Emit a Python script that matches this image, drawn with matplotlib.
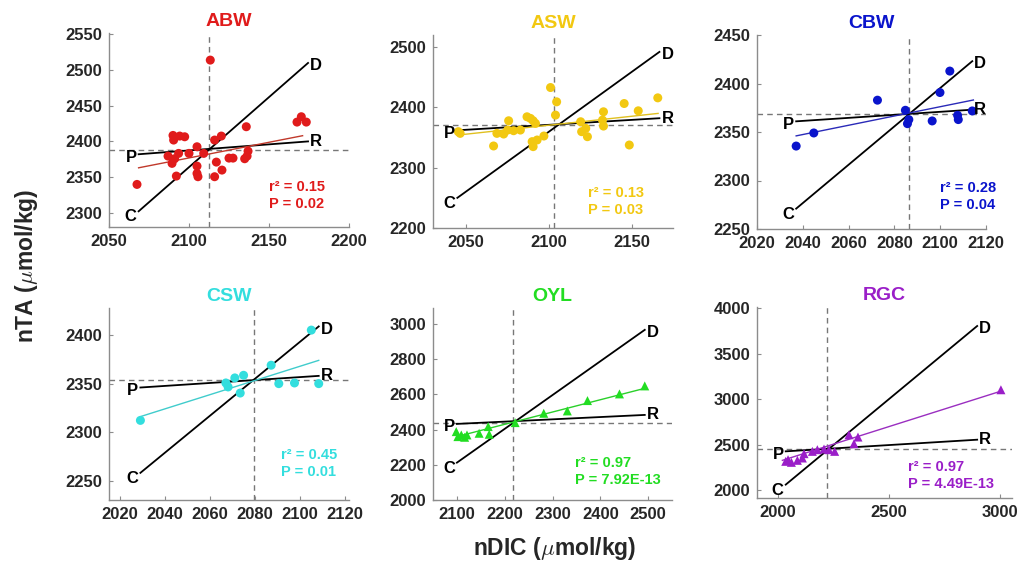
import numpy as np
import matplotlib
matplotlib.use("Agg")
import matplotlib.pyplot as plt

plt.rcParams["font.family"] = ["Liberation Sans", "DejaVu Sans"]
plt.rcParams["font.weight"] = "bold"
plt.rcParams["mathtext.fontset"] = "cm"

# == Datos ==

paneles = ["ABW", "ASW", "CBW", "CSW", "OYL", "RGC"]
colores = ["#e01b1b", "#f2c811", "#0a14cc", "#33dede", "#22dd22", "#9a1ec8"]
colores_ajuste = ["#c0392b", "#e0c020", "#2a2ab8", "#40cccc", "#2ad02a", "#9a2ec0"]
marcadores = ["o", "o", "o", "o", "^", "^"]

abw_x = [2067.5, 2113.3, 2090.0, 2090.4, 2094.2, 2097.3, 2086.9, 2089.4, 2091.0, 2093.5,
         2092.1, 2100.0, 2105.0, 2105.0, 2105.0, 2105.6, 2109.2, 2116.0, 2120.2, 2117.1,
         2116.0, 2120.6, 2125.0, 2127.5, 2135.8, 2136.9, 2136.3, 2134.8, 2167.5, 2170.2,
         2173.3]
abw_y = [2339.7, 2514.0, 2408.4, 2401.9, 2407.5, 2406.5, 2379.4, 2369.2, 2375.7, 2383.2,
         2351.4, 2383.2, 2392.5, 2365.4, 2355.1, 2350.5, 2383.2, 2401.9, 2407.5, 2371.0,
         2350.5, 2359.8, 2376.6, 2376.6, 2420.6, 2386.4, 2379.4, 2375.7, 2427.1, 2434.6,
         2427.1]

asw_x = [2045.3, 2046.4, 2066.6, 2068.6, 2072.7, 2075.7, 2075.1, 2078.7, 2082.8, 2086.8,
         2088.9, 2090.5, 2091.9, 2089.9, 2090.5, 2092.9, 2097.0, 2101.0, 2104.0, 2104.7,
         2119.2, 2119.8, 2122.3, 2123.3, 2133.0, 2132.4, 2133.0, 2145.5, 2148.6, 2154.0,
         2165.8]
asw_y = [2359.7, 2356.9, 2336.0, 2356.9, 2355.8, 2377.8, 2362.4, 2361.3, 2362.4, 2384.4,
         2381.7, 2377.8, 2373.4, 2343.2, 2334.9, 2345.9, 2352.5, 2432.9, 2387.2, 2409.2,
         2376.2, 2359.7, 2365.2, 2351.4, 2392.7, 2378.9, 2369.0, 2406.4, 2337.6, 2394.3,
         2415.8]

cbw_x = [2037.1, 2044.8, 2072.6, 2084.8, 2086.3, 2085.7, 2096.5, 2099.9, 2104.2, 2107.6,
         2107.9, 2114.0]
cbw_y = [2335.5, 2349.0, 2382.8, 2372.4, 2362.8, 2358.6, 2361.4, 2390.7, 2412.8, 2367.2,
         2362.8, 2371.7]

csw_x = [2029.0, 2067.1, 2068.1, 2071.1, 2075.0, 2073.5, 2087.3, 2090.7, 2097.7, 2105.2,
         2108.5]
csw_y = [2312.1, 2350.7, 2346.6, 2355.9, 2358.6, 2340.3, 2369.0, 2350.0, 2350.7, 2405.2,
         2350.0]

oyl_x = [2098.6, 2102.1, 2109.2, 2116.2, 2121.1, 2146.5, 2165.5, 2167.6, 2221.8, 2281.7,
         2331.0, 2373.2, 2440.1, 2493.0]
oyl_y = [2388.3, 2359.8, 2369.3, 2356.1, 2369.3, 2378.8, 2416.7, 2373.1, 2439.4, 2492.4,
         2505.7, 2564.4, 2602.3, 2647.7]

rgc_x = [2034.5, 2045.0, 2060.1, 2087.1, 2109.6, 2117.1, 2154.7, 2177.2, 2207.2, 2229.7,
         2255.3, 2319.8, 2342.3, 2360.4, 3005.0]
rgc_y = [2318.1, 2336.4, 2307.1, 2329.1, 2354.7, 2402.2, 2427.8, 2446.1, 2453.4, 2446.1,
         2427.8, 2610.6, 2511.9, 2585.0, 3105.0]

datos_x = [abw_x, asw_x, cbw_x, csw_x, oyl_x, rgc_x]
datos_y = [abw_y, asw_y, cbw_y, csw_y, oyl_y, rgc_y]

# medias (líneas punteadas)
media_x = [2112.5, 2103.4, 2086.5, 2079.5, 2217.0, 2222.0]
media_y = [2388.0, 2371.0, 2369.0, 2353.5, 2436.0, 2453.0]

# extremos de las líneas C-D y P-R
linea_x0 = [2068.5, 2044.7, 2037.1, 2029.0, 2100.0, 2034.5]
linea_x1 = [2174.4, 2166.8, 2114.0, 2108.5, 2493.0, 2897.9]
c_y = [2302.0, 2250.0, 2271.0, 2258.0, 2212.0, 2062.0]
d_y = [2510.0, 2492.0, 2423.0, 2409.0, 2966.0, 3806.0]
p_y = [2382.0, 2362.0, 2361.0, 2346.0, 2432.0, 2428.0]
r_y = [2400.0, 2382.0, 2373.0, 2358.0, 2483.0, 2556.0]

# recta de regresión de cada panel
ajuste_x0 = [2068.5, 2044.7, 2037.1, 2029.0, 2100.0, 2019.5]
ajuste_x1 = [2171.0, 2166.0, 2114.5, 2108.5, 2493.0, 3000.0]
ajuste_y0 = [2363.0, 2354.0, 2346.0, 2316.0, 2360.0, 2329.0]
ajuste_y1 = [2408.0, 2390.0, 2383.0, 2374.0, 2634.0, 3086.0]

r2_txt = ["0.15", "0.13", "0.28", "0.45", "0.97", "0.97"]
p_txt = ["0.02", "0.03", "0.04", "0.01", "7.92E-13", "4.49E-13"]

# == Layout (px de la figura 1017x565) ==
W, H = 1017, 565
cajas = [(109, 33, 349, 227), (433, 35, 673, 228), (757, 35, 986, 229),
         (109, 308, 349, 500), (433, 308, 672, 500), (757, 307, 1012, 498)]
xlims = [(2050, 2200), (2030, 2175), (2020, 2120), (2015, 2122), (2050, 2550), (1905, 3055)]
ylims = [(2280, 2552), (2200, 2520), (2250, 2450), (2230, 2428), (2000, 3090), (1915, 4015)]
xticks = [np.arange(2050, 2201, 50), np.arange(2050, 2151, 50), np.arange(2020, 2121, 20),
          np.arange(2020, 2121, 20), np.arange(2100, 2501, 100), np.arange(2000, 3001, 500)]
yticks = [np.arange(2300, 2551, 50), np.arange(2200, 2501, 100), np.arange(2250, 2451, 50),
          np.arange(2250, 2401, 50), np.arange(2000, 3001, 200), np.arange(2000, 4001, 500)]
texto_pos = [(269, 187), (588, 193), (940, 188), (281, 455), (575, 463), (908, 467)]

fig = plt.figure(figsize=(W / 100, H / 100), dpi=100)

for i, nombre in enumerate(paneles):
    l, t, r, b = cajas[i]
    ax = fig.add_axes([l / W, 1 - b / H, (r - l) / W, (b - t) / H])
    col = colores[i]

    ax.axvline(media_x[i], color="#777777", ls=(0, (4, 3)), lw=1.0, zorder=1)
    ax.axhline(media_y[i], color="#777777", ls=(0, (4, 3)), lw=1.0, zorder=1)

    ax.scatter(datos_x[i], datos_y[i], s=42, marker=marcadores[i], color=col,
               edgecolors="none", zorder=3)

    x0, x1 = linea_x0[i], linea_x1[i]
    ax.plot([x0, x1], [c_y[i], d_y[i]], color="black", lw=1.3, zorder=2)
    ax.plot([x0, x1], [p_y[i], r_y[i]], color="black", lw=1.3, zorder=2)
    ax.plot([ajuste_x0[i], ajuste_x1[i]], [ajuste_y0[i], ajuste_y1[i]],
            color=colores_ajuste[i], lw=1.0, zorder=2)

    kw = dict(textcoords="offset points", fontsize=12, fontweight="bold", va="center")
    ax.annotate("D", (x1, d_y[i]), xytext=(1.5, -2), ha="left", **kw)
    ax.annotate("R", (x1, r_y[i]), xytext=(1.5, 0), ha="left", **kw)
    ax.annotate("C", (x0, c_y[i]), xytext=(-1.5, -4), ha="right", **kw)
    ax.annotate("P", (x0, p_y[i]), xytext=(-1.5, -2), ha="right", **kw)

    tx, ty = texto_pos[i]
    fig.text(tx / W, 1 - ty / H, "r² = " + r2_txt[i], color=col,
             fontsize=10.5, fontweight="bold", va="center")
    fig.text(tx / W, 1 - (ty + 17) / H, "P = " + p_txt[i], color=col,
             fontsize=10.5, fontweight="bold", va="center")

    ax.set_title(nombre, color=col, fontsize=14, fontweight="bold", pad=5)

    ax.set_xlim(*xlims[i])
    ax.set_ylim(*ylims[i])
    ax.set_xticks(xticks[i])
    ax.set_yticks(yticks[i])
    for s in ["top", "right"]:
        ax.spines[s].set_visible(False)
    for s in ["left", "bottom"]:
        ax.spines[s].set_color("#8c8c8c")
        ax.spines[s].set_linewidth(1.0)
    ax.tick_params(direction="in", length=3, color="#8c8c8c", labelsize=12,
                   labelcolor="#262626", pad=5)
    for lab in ax.get_xticklabels() + ax.get_yticklabels():
        lab.set_fontweight("bold")

fig.text(27 / W, 1 - 266 / H, r"nTA ($\mu$mol/kg)", rotation=90, fontsize=16.5,
         fontweight="bold", ha="center", va="center", color="#262626")
fig.text(555 / W, 1 - 549 / H, r"nDIC ($\mu$mol/kg)", fontsize=16.5,
         fontweight="bold", ha="center", va="center", color="#262626")

fig.savefig("out.png", dpi=100)
